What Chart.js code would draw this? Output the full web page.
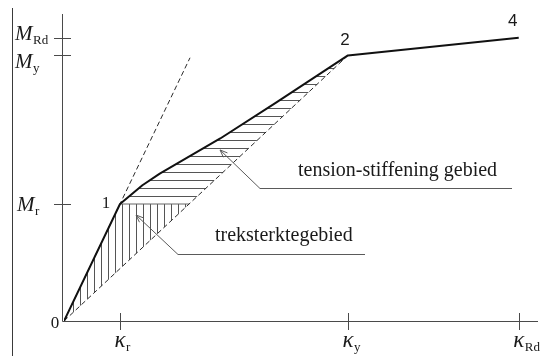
<!DOCTYPE html>
<html>
<head>
<meta charset="utf-8">
<script src="https://cdn.jsdelivr.net/npm/chart.js@4/dist/chart.umd.min.js"></script>
<style>
  html, body { margin: 0; padding: 0; background: #ffffff; }
  #wrap { width: 544px; height: 356px; position: relative; }
  canvas { display: block; }
</style>
</head>
<body>
<div id="wrap"><canvas id="mk" width="544" height="356"></canvas></div>
<script>
// Moment–curvature diagram of a reinforced concrete section.
// Curvature (kappa) on x, moment (M) on y, both in relative units (kappa_r = 1, M_r = 1).

// characteristic curvatures and their labels
const kappaTicks  = [1.0, 5.07, 8.12];
const kappaLabels = [['κ', 'r'], ['κ', 'y'], ['κ', 'Rd']];

// characteristic moments and their labels
const momentTicks  = [1.0, 2.27, 2.42];
const momentLabels = [['M', 'r'], ['M', 'y'], ['M', 'Rd']];

// actual M-kappa branch: 0 -> 1 (cracking) -> 2 (yielding) -> 4 (ultimate)
const curveKappa = [0, 1.0, 1.40, 1.71, 2.79, 3.80, 5.07, 8.12];
const curveM     = [0, 1.0, 1.16, 1.26, 1.56, 1.87, 2.27, 2.42];
const pointNames = ['0', '1', '2', '4'];
const pointIndex = [0, 1, 6, 7];

// uncracked (linear elastic) stiffness line
const uncrackedKappa = [0, 2.25];
const uncrackedM     = [0, 2.25];

// fully cracked stiffness line, from the origin to point 2
const crackedKappa = [0, 5.07];
const crackedM     = [0, 2.27];

// axis ranges
const kappaMax = 8.464;
const momentMax = 2.624;

const Mr = momentTicks[0];
const kr = kappaTicks[0];
// curvature of the cracked line at the cracking moment
const kCrackAtMr = Mr * crackedKappa[1] / crackedM[1];

const pts = (xs, ys) => xs.map((x, i) => ({ x: x, y: ys[i] }));

// tension-stiffening area: between branch 1-2 and the cracked line, above M_r
const tensionArea = [];
for (let i = 1; i <= 6; i++) tensionArea.push({ x: curveKappa[i], y: curveM[i] });
tensionArea.push({ x: kCrackAtMr, y: Mr });
tensionArea.push({ x: curveKappa[1], y: curveM[1] });

// tensile strength area: below M_r between branch 0-1 and the cracked line
const tensileArea = [
  { x: 0, y: 0 },
  { x: kr, y: Mr },
  { x: kCrackAtMr, y: Mr },
  { x: 0, y: 0 }
];

function hatch(vertical, step, color) {
  const c = document.createElement('canvas');
  c.width = step; c.height = step;
  const g = c.getContext('2d');
  g.fillStyle = color;
  if (vertical) g.fillRect(Math.floor(step / 2), 0, 1, step);
  else g.fillRect(0, Math.floor(step / 2), step, 1);
  return g.createPattern(c, 'repeat');
}

const ctx = document.getElementById('mk').getContext('2d');

// annotation anchors (data units)
const leaders = [
  { pts: [[2.786, 1.462], [3.50, 1.137], [8.00, 1.137]], text: 'tension-stiffening gebied', tx: 4.179, ty: 1.239 },
  { pts: [[1.286, 0.906], [2.036, 0.573], [5.375, 0.573]], text: 'treksterktegebied', tx: 2.696, ty: 0.684 }
];

function subText(c, base, sub, x, y, baseFont, subFont, subDrop, align) {
  c.font = baseFont;
  const wb = c.measureText(base).width;
  let left = x;
  if (align === 'center') left = x - wb / 2;
  c.textAlign = 'left';
  c.textBaseline = 'alphabetic';
  c.fillText(base, left, y);
  c.font = subFont;
  c.fillText(sub, left + wb + 0.5, y + subDrop);
}

const decor = {
  id: 'decor',
  beforeDatasetsDraw(chart) {
    const c = chart.ctx;
    const xs = chart.scales.x, ys = chart.scales.y;
    const x0 = xs.getPixelForValue(0), y0 = ys.getPixelForValue(0);
    c.save();
    // frame edge on the left
    c.strokeStyle = '#3a3a3a';
    c.lineWidth = 1;
    c.beginPath(); c.moveTo(12.5, 8); c.lineTo(12.5, 356); c.stroke();
    // axes
    c.strokeStyle = '#4a4a4a';
    c.beginPath();
    c.moveTo(Math.round(x0) - 1.5, ys.getPixelForValue(momentMax));
    c.lineTo(Math.round(x0) - 1.5, y0 + 0.5);
    c.lineTo(xs.getPixelForValue(kappaMax), y0 + 0.5);
    c.stroke();
    // tick marks
    momentTicks.forEach(v => {
      const p = Math.round(ys.getPixelForValue(v)) + 0.5;
      c.beginPath(); c.moveTo(x0 - 10, p); c.lineTo(x0 + 7, p); c.stroke();
    });
    kappaTicks.forEach(v => {
      const p = Math.round(xs.getPixelForValue(v)) + 0.5;
      c.beginPath(); c.moveTo(p, y0 - 8); c.lineTo(p, y0 + 9); c.stroke();
    });
    // leader lines with open arrowheads
    c.strokeStyle = '#5a5a5a';
    leaders.forEach(l => {
      const P = l.pts.map(p => [xs.getPixelForValue(p[0]), ys.getPixelForValue(p[1])]);
      c.beginPath();
      c.moveTo(P[0][0], P[0][1]);
      for (let i = 1; i < P.length; i++) c.lineTo(P[i][0], Math.round(P[i][1]) + 0.5);
      c.stroke();
      const a = Math.atan2(P[1][1] - P[0][1], P[1][0] - P[0][0]);
      const L = 8, s = 0.38;
      c.beginPath();
      c.moveTo(P[0][0] + L * Math.cos(a - s), P[0][1] + L * Math.sin(a - s));
      c.lineTo(P[0][0], P[0][1]);
      c.lineTo(P[0][0] + L * Math.cos(a + s), P[0][1] + L * Math.sin(a + s));
      c.stroke();
    });
    c.restore();
  },
  afterDraw(chart) {
    const c = chart.ctx;
    const xs = chart.scales.x, ys = chart.scales.y;
    c.save();
    c.fillStyle = '#1a1a1a';
    // moment labels on the vertical axis
    const mOffsets = [7, 13, 2];
    momentTicks.forEach((v, i) => {
      const p = ys.getPixelForValue(v);
      const lx = i === 0 ? 17 : 15;
      subText(c, momentLabels[i][0], momentLabels[i][1], lx, p + mOffsets[i],
        'italic 21px "Liberation Serif"', '13px "Liberation Serif"', 4, 'left');
    });
    // curvature labels under the horizontal axis
    kappaTicks.forEach((v, i) => {
      const p = xs.getPixelForValue(v);
      subText(c, kappaLabels[i][0], kappaLabels[i][1], p, 347,
        'italic 23px "Liberation Serif"', '13px "Liberation Serif"', 4, 'center');
    });
    // point numbers on the branch
    const off = [[-9, 7, 'serif'], [-14, 4, 'serif'], [-3, -10, 'sans'], [-6, -12, 'sans']];
    pointIndex.forEach((idx, i) => {
      const px = xs.getPixelForValue(curveKappa[idx]);
      const py = ys.getPixelForValue(curveM[idx]);
      c.font = off[i][2] === 'serif' ? '17px "Liberation Serif"' : '17px "Liberation Sans"';
      c.textAlign = 'center';
      c.textBaseline = 'alphabetic';
      c.fillText(pointNames[i], px + off[i][0], py + off[i][1]);
    });
    // area captions
    c.font = '20px "Liberation Serif"';
    c.textAlign = 'left';
    leaders.forEach(l => {
      c.fillText(l.text, xs.getPixelForValue(l.tx), ys.getPixelForValue(l.ty));
    });
    c.restore();
  }
};

new Chart(ctx, {
  type: 'line',
  data: {
    datasets: [
      {
        data: pts(curveKappa, curveM),
        borderColor: '#111111', borderWidth: 2, tension: 0, fill: false,
        borderJoinStyle: 'round'
      },
      {
        data: pts(uncrackedKappa, uncrackedM),
        borderColor: '#2a2a2a', borderWidth: 1, borderDash: [5, 3], fill: false
      },
      {
        data: pts(crackedKappa, crackedM),
        borderColor: '#2a2a2a', borderWidth: 1, borderDash: [5, 3], fill: false
      },
      {
        data: [{ x: kr, y: Mr }, { x: kCrackAtMr, y: Mr }],
        borderColor: '#666666', borderWidth: 1, fill: false
      },
      {
        data: tensionArea,
        borderColor: 'rgba(0,0,0,0)', borderWidth: 1,
        backgroundColor: hatch(false, 8, '#555555'), fill: 'shape'
      },
      {
        data: tensileArea,
        borderColor: 'rgba(0,0,0,0)', borderWidth: 1,
        backgroundColor: hatch(true, 7, '#555555'), fill: 'shape'
      }
    ]
  },
  options: {
    responsive: false,
    animation: false,
    devicePixelRatio: 1,
    layout: { padding: { left: 64, right: 6, top: 14, bottom: 35 } },
    elements: { point: { radius: 0, hoverRadius: 0 } },
    scales: {
      x: { type: 'linear', min: 0, max: kappaMax, display: false },
      y: { type: 'linear', min: 0, max: momentMax, display: false }
    },
    plugins: {
      legend: { display: false },
      tooltip: { enabled: false }
    }
  },
  plugins: [decor]
});
</script>
</body>
</html>
